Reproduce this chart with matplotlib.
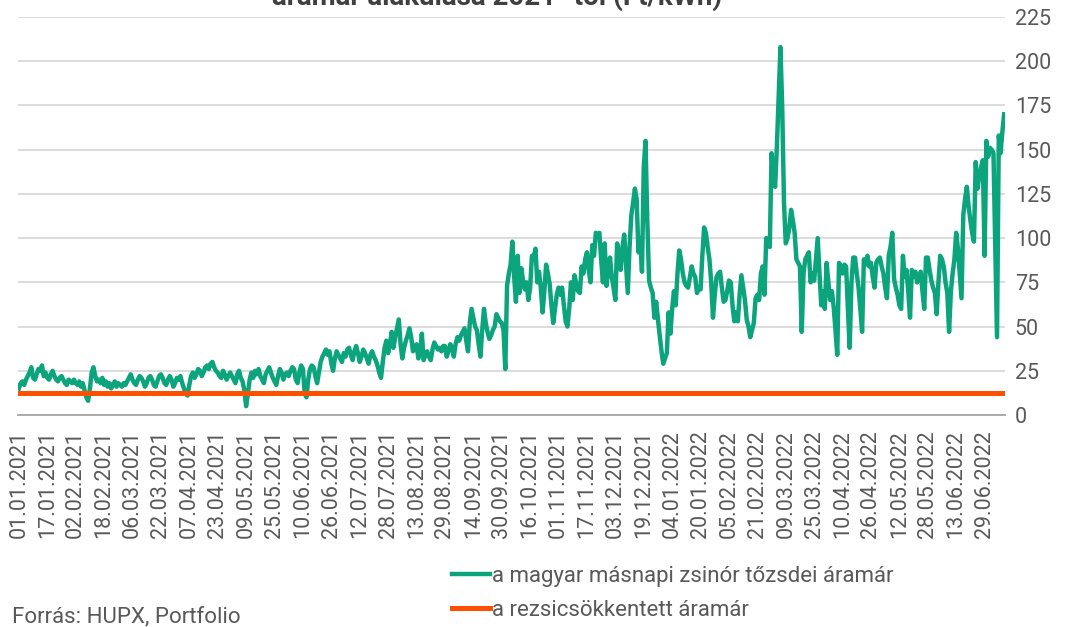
import numpy as np
import pandas as pd
import matplotlib
matplotlib.use("Agg")
import matplotlib.pyplot as plt

plt.rcParams['font.family'] = ['Roboto', 'DejaVu Sans']

# daily HUPX base price (Ft/kWh)
jan21 = [15, 18, 19, 17, 20, 22, 24, 27, 21, 20, 23, 26, 25, 28, 22, 24, 21, 20, 23, 25, 22, 20, 19, 21, 22, 20, 18, 17, 20, 19, 18]
feb21 = [20, 18, 17, 19, 16, 18, 14, 10, 8, 15, 24, 27, 22, 19, 20, 18, 21, 17, 19, 16, 18, 15, 17, 19, 16, 18, 17, 16]
mar21 = [18, 17, 19, 21, 23, 20, 18, 17, 20, 22, 21, 19, 16, 18, 21, 22, 20, 17, 16, 19, 22, 23, 21, 18, 17, 20, 22, 20, 16, 18, 21]
apr21 = [20, 22, 18, 15, 12, 11, 17, 22, 24, 21, 23, 26, 25, 22, 24, 27, 28, 26, 29, 30, 27, 25, 24, 22, 21, 25, 23, 20, 22, 24]
may21 = [22, 20, 18, 23, 25, 21, 19, 14, 5, 12, 20, 24, 21, 25, 23, 26, 22, 20, 18, 23, 25, 27, 24, 21, 19, 17, 22, 26, 24, 20, 23]
jun21 = [24, 22, 25, 27, 26, 20, 18, 24, 28, 26, 12, 10, 20, 26, 28, 27, 22, 18, 24, 30, 33, 35, 37, 34, 36, 29, 25, 32, 36, 34]
jul21 = [32, 30, 35, 33, 37, 38, 34, 31, 36, 39, 35, 30, 33, 37, 35, 32, 29, 34, 36, 33, 31, 28, 24, 21, 30, 38, 42, 35, 40, 47, 38]
aug21 = [44, 49, 54, 40, 32, 38, 42, 45, 49, 44, 36, 38, 40, 32, 35, 46, 31, 34, 36, 33, 31, 37, 41, 39, 37, 38, 36, 39, 39, 33, 36]
sep21 = [40, 38, 33, 40, 44, 42, 45, 47, 49, 42, 36, 52, 60, 55, 50, 48, 40, 33, 48, 60, 52, 47, 43, 45, 48, 50, 57, 55, 53, 52]
oct21 = [48, 26, 73, 80, 85, 98, 78, 64, 90, 69, 83, 76, 71, 75, 65, 72, 90, 89, 94, 75, 81, 72, 58, 70, 85, 80, 74, 62, 52, 60, 68]
nov21 = [72, 68, 72, 62, 53, 50, 60, 75, 65, 79, 74, 70, 69, 84, 80, 88, 92, 82, 75, 96, 90, 103, 101, 103, 88, 75, 97, 73, 82, 89]
dec21 = [78, 72, 65, 97, 90, 82, 95, 102, 85, 69, 95, 113, 120, 128, 122, 92, 100, 81, 140, 155, 110, 76, 72, 69, 55, 64, 54, 45, 36, 29, 32]
jan22 = [35, 58, 46, 60, 70, 62, 80, 93, 88, 80, 75, 73, 72, 78, 84, 80, 78, 69, 72, 71, 90, 106, 103, 95, 88, 75, 55, 68, 78, 80, 81]
feb22 = [72, 64, 65, 70, 76, 75, 62, 53, 58, 53, 68, 79, 72, 65, 54, 50, 44, 48, 52, 66, 68, 65, 80, 84, 68, 100, 99, 95]
mar22 = [148, 135, 129, 152, 180, 208, 174, 120, 97, 100, 106, 116, 110, 103, 88, 86, 84, 47, 80, 88, 90, 92, 75, 80, 76, 88, 100, 80, 62, 70, 60]
apr22 = [86, 75, 65, 70, 61, 48, 34, 86, 84, 80, 85, 84, 60, 38, 75, 89, 89, 80, 72, 60, 47, 88, 85, 90, 84, 86, 78, 72, 86, 88]
may22 = [89, 84, 80, 72, 66, 90, 95, 103, 77, 72, 68, 62, 60, 90, 78, 82, 70, 55, 82, 78, 81, 75, 78, 81, 70, 60, 89, 89, 82, 76, 72]
jun22 = [69, 57, 75, 90, 88, 84, 75, 69, 47, 70, 80, 88, 103, 94, 80, 66, 113, 122, 129, 118, 110, 103, 98, 143, 128, 135, 140, 144, 90, 155]
jul22 = [146, 151, 150, 148, 95, 44, 158, 148, 160, 170]

rezsi_price = 12.5  # regulated household price

spot = (jan21 + feb21 + mar21 + apr21 + may21 + jun21 + jul21 + aug21 + sep21
        + oct21 + nov21 + dec21 + jan22 + feb22 + mar22 + apr22 + may22 + jun22 + jul22)
dates = pd.date_range('2021-01-01', periods=len(spot), freq='D')
days = np.arange(len(spot))

W, H = 1066, 627
fig = plt.figure(figsize=(W / 100, H / 100), dpi=100)
ax = fig.add_axes([18 / W, 1 - 415 / H, 987 / W, 398 / H])

ax.plot(days, spot, color='#0ca47c', lw=3.2, solid_joinstyle='round', zorder=3,
        label='a magyar másnapi zsinór tőzsdei áramár')
ax.plot(days, np.full(len(days), rezsi_price), color='#ff5000', lw=3.6, zorder=4,
        label='a rezsicsökkentett áramár')

ax.set_xlim(-0.5, len(spot) - 0.5)
ax.set_ylim(0, 225)
ax.yaxis.tick_right()
ax.set_yticks(range(0, 226, 25))
ax.set_xticks(days[::16])
ax.set_xticklabels(dates[::16].strftime('%d.%m.%Y'), rotation=90)
ax.tick_params(length=0, labelsize=15.5, colors='#595959')
ax.tick_params(axis='y', pad=7)
ax.tick_params(axis='x', pad=11)

ax.grid(axis='y', color='#d9d9d9', lw=1.3)
ax.set_axisbelow(True)
for side in ['top', 'left', 'right']:
    ax.spines[side].set_visible(False)
ax.spines['bottom'].set_color('#a6a6a6')
ax.spines['bottom'].set_linewidth(1.3)

# title is cut off at the top edge in the original
fig.text(497 / W, 1 - 5 / H, 'áramár alakulása 2021 -től (Ft/kWh)', ha='center',
         va='baseline', fontsize=20, fontweight='bold', color='#404040')

fig.legend(loc='upper left', bbox_to_anchor=(452 / W, 1 - 566 / H), frameon=False,
           fontsize=16, labelcolor='#595959', handlelength=1.7, handletextpad=0.1,
           labelspacing=0.58, borderaxespad=0, borderpad=0)
fig.text(12 / W, 1 - 617 / H, 'Forrás: HUPX, Portfolio', ha='left', va='center',
         fontsize=16, color='#595959')

fig.savefig('out.png', dpi=100)
